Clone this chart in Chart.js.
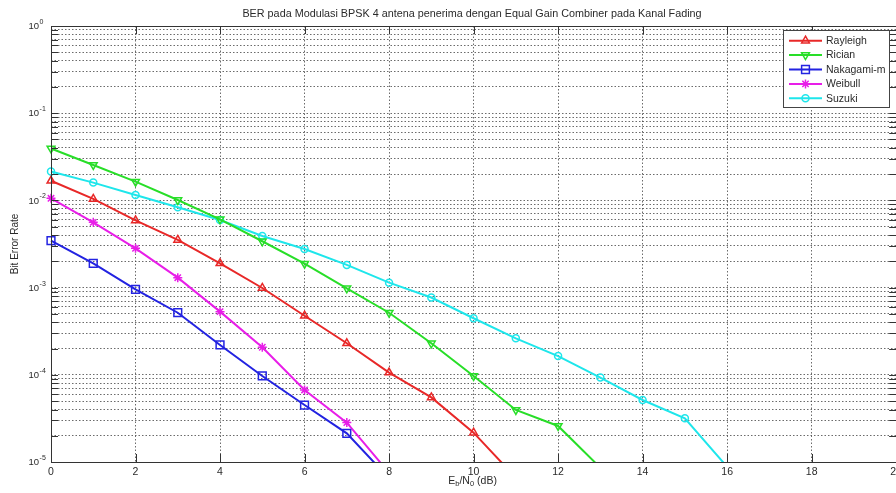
<!DOCTYPE html>
<html>
<head>
<meta charset="utf-8">
<script src="https://cdn.jsdelivr.net/npm/chart.js@4.4.0/dist/chart.umd.min.js"></script>
<style>
  html, body { margin: 0; padding: 0; background: #fff; overflow: hidden; }
  #wrap { width: 906px; height: 493px; }
</style>
</head>
<body>
<div id="wrap"><canvas id="c" width="906" height="493"></canvas></div>
<script>
// ---- data ----
const chartTitle = 'BER pada Modulasi BPSK 4 antena penerima dengan Equal Gain Combiner pada Kanal Fading';
const yAxisLabel = 'Bit Error Rate';
const ebn0 = [0, 1, 2, 3, 4, 5, 6, 7, 8, 9, 10, 11, 12, 13, 14, 15, 16];
const seriesNames = ['Rayleigh', 'Rician', 'Nakagami-m', 'Weibull', 'Suzuki'];
const rayleigh = [1.68e-2, 1.04e-2, 5.9e-3, 3.52e-3, 1.9e-3, 9.9e-4, 4.76e-4, 2.3e-4, 1.06e-4, 5.5e-5, 2.17e-5, 6.6e-6];
const rician = [3.94e-2, 2.55e-2, 1.64e-2, 1.01e-2, 6.07e-3, 3.4e-3, 1.88e-3, 9.8e-4, 5.15e-4, 2.3e-4, 9.7e-5, 3.95e-5, 2.59e-5, 8.6e-6];
const nakagami = [3.45e-3, 1.9e-3, 9.55e-4, 5.15e-4, 2.2e-4, 9.7e-5, 4.5e-5, 2.13e-5, 6.5e-6];
const weibull = [1.056e-2, 5.6e-3, 2.82e-3, 1.3e-3, 5.3e-4, 2.07e-4, 6.7e-5, 2.83e-5, 7.5e-6];
const suzuki = [2.14e-2, 1.6e-2, 1.154e-2, 8.34e-3, 5.96e-3, 3.9e-3, 2.77e-3, 1.82e-3, 1.14e-3, 7.7e-4, 4.45e-4, 2.62e-4, 1.64e-4, 9.3e-5, 5.14e-5, 3.17e-5, 8.8e-6];
const xTickValues = [0, 2, 4, 6, 8, 10, 12, 14, 16, 18, 20];
const yDecades = [-5, -4, -3, -2, -1, 0];

// ---- styles ----
const FONT = '"Liberation Sans", Arial, sans-serif';
const TEXT = '#2a2a2a';
const styles = [
  { color: 'rgb(232,40,40)',  pointStyle: 'triangle', rotation: 0,   radius: 4.5 },
  { color: 'rgb(40,222,40)',  pointStyle: 'triangle', rotation: 180, radius: 4.5 },
  { color: 'rgb(35,35,225)',  pointStyle: 'rect',     rotation: 0,   radius: 5.5 },
  { color: 'rgb(232,30,232)', pointStyle: 'star',     rotation: 0,   radius: 4.5 },
  { color: 'rgb(30,230,235)', pointStyle: 'circle',   rotation: 0,   radius: 3.5 }
];
const seriesValues = [rayleigh, rician, nakagami, weibull, suzuki];

const datasets = seriesNames.map((name, i) => ({
  label: name,
  data: seriesValues[i].map((v, k) => ({ x: ebn0[k], y: v })),
  borderColor: styles[i].color,
  backgroundColor: 'rgba(0,0,0,0)',
  borderWidth: 2,
  pointStyle: styles[i].pointStyle,
  pointRotation: styles[i].rotation,
  pointRadius: styles[i].radius,
  pointBorderWidth: 1.5,
  pointBackgroundColor: 'rgba(0,0,0,0)',
  pointBorderColor: styles[i].color,
  tension: 0,
  clip: { left: 7, top: 0, right: 0, bottom: 0 }
}));

// minor + major ticks for the log axis
const yTickValues = [];
yDecades.forEach(d => {
  for (let m = 1; m <= 9; m++) {
    if (d === 0 && m > 1) break;
    yTickValues.push(m * Math.pow(10, d));
  }
});

// axes frame, inner tick marks, texts and legend
const decorations = {
  id: 'decorations',
  afterDatasetsDraw(chart) {
    const { ctx, chartArea: a, scales } = chart;
    const xs = scales.x, ys = scales.y;
    ctx.save();
    // frame
    ctx.strokeStyle = '#333';
    ctx.lineWidth = 1;
    ctx.strokeRect(Math.round(a.left) + 0.5, Math.round(a.top) + 0.5,
                   Math.round(a.right - a.left), Math.round(a.bottom - a.top));
    // x tick marks, bottom and top
    ctx.beginPath();
    xTickValues.forEach(v => {
      const px = Math.round(xs.getPixelForValue(v)) + 0.5;
      ctx.moveTo(px, a.bottom); ctx.lineTo(px, a.bottom - 8);
      ctx.moveTo(px, a.top); ctx.lineTo(px, a.top + 8);
    });
    // y tick marks, left and right
    yTickValues.forEach(v => {
      const py = Math.round(ys.getPixelForValue(v)) + 0.5;
      ctx.moveTo(a.left, py); ctx.lineTo(a.left + 7, py);
      ctx.moveTo(a.right, py); ctx.lineTo(a.right - 7, py);
    });
    ctx.stroke();

    // y tick labels 10^n
    ctx.fillStyle = TEXT;
    ctx.textBaseline = 'middle';
    ctx.textAlign = 'left';
    yDecades.forEach(d => {
      const py = ys.getPixelForValue(Math.pow(10, d));
      ctx.font = '9.5px ' + FONT;
      ctx.fillText('10', 28.5, py + 0.5);
      const w = ctx.measureText('10').width;
      ctx.font = '7px ' + FONT;
      ctx.fillText(d === 0 ? '0' : '-' + Math.abs(d), 28.5 + w + 0.5, py - 4);
    });

    // title
    ctx.font = '10.8px ' + FONT;
    ctx.textAlign = 'center';
    ctx.fillText(chartTitle, 472, 14);

    // y axis label
    ctx.save();
    ctx.translate(15, (a.top + a.bottom) / 2);
    ctx.rotate(-Math.PI / 2);
    ctx.font = '10px ' + FONT;
    ctx.fillText(yAxisLabel, 0, 0);
    ctx.restore();

    // x axis label  E_b/N_0 (dB)
    const parts = [
      { t: 'E', sub: false }, { t: 'b', sub: true }, { t: '/N', sub: false },
      { t: '0', sub: true }, { t: ' (dB)', sub: false }
    ];
    const fontFor = p => (p.sub ? '7.5px ' : '10.5px ') + FONT;
    let total = 0;
    parts.forEach(p => { ctx.font = fontFor(p); total += ctx.measureText(p.t).width; });
    let cx = (a.left + a.right) / 2 - 1 - total / 2;
    ctx.textAlign = 'left';
    parts.forEach(p => {
      ctx.font = fontFor(p);
      ctx.fillText(p.t, cx, p.sub ? 484 : 481);
      cx += ctx.measureText(p.t).width;
    });

    // legend
    const L = { left: 783, top: 30, right: 889, bottom: 107 };
    ctx.fillStyle = '#fff';
    ctx.fillRect(L.left, L.top, L.right - L.left, L.bottom - L.top);
    ctx.strokeStyle = '#444';
    ctx.lineWidth = 1;
    ctx.strokeRect(L.left + 0.5, L.top + 0.5, L.right - L.left, L.bottom - L.top);
    chart.data.datasets.forEach((ds, i) => {
      const ry = 40.7 + i * 14.4;
      ctx.strokeStyle = ds.borderColor;
      ctx.lineWidth = 2;
      ctx.beginPath();
      ctx.moveTo(789, ry); ctx.lineTo(822, ry);
      ctx.stroke();
      ctx.lineWidth = 1.5;
      ctx.fillStyle = 'rgba(0,0,0,0)';
      Chart.helpers.drawPoint(ctx, {
        pointStyle: ds.pointStyle, rotation: ds.pointRotation,
        radius: ds.pointRadius, borderWidth: 1.5
      }, 805.5, ry);
      ctx.fillStyle = TEXT;
      ctx.font = '10.5px ' + FONT;
      ctx.textAlign = 'left';
      ctx.textBaseline = 'middle';
      ctx.fillText(ds.label, 826, ry + 0.5);
    });
    ctx.restore();
  }
};

const gridStyle = {
  color: 'rgba(70,70,70,0.8)',
  lineWidth: 1,
  drawTicks: false
};
const dottedBorder = { display: false, dash: [1.5, 2] };

new Chart(document.getElementById('c'), {
  type: 'line',
  data: { datasets },
  options: {
    responsive: false,
    animation: false,
    devicePixelRatio: 1,
    layout: { padding: { top: 26, right: 9, bottom: 0, left: 0 } },
    plugins: { legend: { display: false }, title: { display: false }, tooltip: { enabled: false } },
    scales: {
      x: {
        type: 'linear',
        min: 0, max: 20,
        afterBuildTicks: s => { s.ticks = xTickValues.map(v => ({ value: v })); },
        ticks: { font: { family: FONT, size: 10.5 }, color: TEXT, padding: 4, maxRotation: 0 },
        grid: gridStyle,
        border: dottedBorder,
        afterFit: s => { s.height = 31; }
      },
      y: {
        type: 'logarithmic',
        min: 1e-5, max: 1,
        afterBuildTicks: s => { s.ticks = yTickValues.map(v => ({ value: v })); },
        ticks: { display: false },
        grid: gridStyle,
        border: dottedBorder,
        afterFit: s => { s.width = 51; }
      }
    }
  },
  plugins: [decorations]
});
</script>
</body>
</html>
